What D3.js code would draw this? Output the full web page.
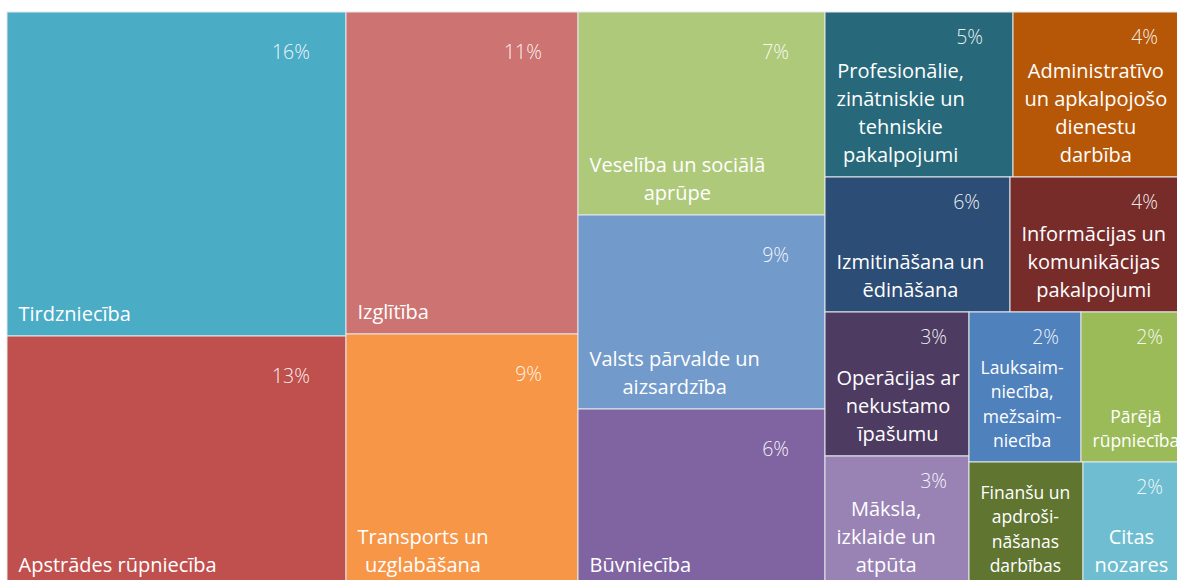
<!DOCTYPE html>
<html>
<head>
<meta charset="utf-8">
<script src="https://cdn.jsdelivr.net/npm/d3@7"></script>
<style>
  html, body { margin: 0; padding: 0; overflow: hidden; background: #fff; }
  .name { font-family: "Open Sans", sans-serif; fill: #fff; }
  .share { font-family: "Open Sans", sans-serif; font-weight: 300; fill: #fff; fill-opacity: 0.92; }
</style>
</head>
<body>
<div id="treemap"><svg></svg></div>
<script>
// sectors, line breaks as in the original labels
var categories = [
    "Tirdzniecība",
    "Apstrādes rūpniecība",
    "Izglītība",
    "Transports un\nuzglabāšana",
    "Veselība un sociālā\naprūpe",
    "Valsts pārvalde un\naizsardzība",
    "Būvniecība",
    "Profesionālie,\nzinātniskie un\ntehniskie\npakalpojumi",
    "Administratīvo\nun apkalpojošo\ndienestu\ndarbība",
    "Izmitināšana un\nēdināšana",
    "Informācijas un\nkomunikācijas\npakalpojumi",
    "Operācijas ar\nnekustamo\nīpašumu",
    "Māksla,\nizklaide un\natpūta",
    "Lauksaim-\nniecība,\nmežsaim-\nniecība",
    "Pārējā\nrūpniecība",
    "Finanšu un\napdroši-\nnāšanas\ndarbības",
    "Citas\nnozares"
];

// tile sizes
var sizes = [16.3, 12.6, 11.1, 8.7, 7.4, 7.1, 6.5, 4.6, 4.1, 3.7, 3.4, 3.1, 2.8, 2.5, 2.2, 2.1, 1.8];

// percentage labels as printed on the tiles
var shareLabels = ["16%", "13%", "11%", "9%", "7%", "9%", "6%", "5%", "4%", "6%", "4%", "3%", "3%", "2%", "2%", "2%", "2%"];

var palette = [
    "#4bacc6", "#c0504d", "#cd7371", "#f79646", "#afc97a", "#729aca", "#8064a2",
    "#27697b", "#b65708", "#2c4d75", "#772c2a", "#4d3b62", "#9983b5",
    "#4f81bd", "#9bbb59", "#5f7530", "#6fbdd1"
];

var width = 1177;
var height = 580;
var mapLeft = 7, mapTop = 12;
var mapWidth = 1173, mapHeight = 575;   // runs past the window edge, like the original crop

function draw() {
    var svg = d3.select("#treemap svg")
        .attr("width", width)
        .attr("height", height);

    var color = d3.scaleOrdinal(categories, palette);

    var root = d3.hierarchy({
            children: categories.map(function(c, i) {
                return { name: c, size: sizes[i], share: shareLabels[i] };
            })
        })
        .sum(function(d) { return d.size || 0; })
        .sort(function(a, b) { return b.value - a.value; });

    d3.treemap()
        .tile(d3.treemapSquarify.ratio(1))
        .size([mapWidth, mapHeight])
        .round(true)(root);

    var g = svg.append("g")
        .attr("transform", "translate(" + mapLeft + "," + mapTop + ")");

    var cell = g.selectAll(".cell")
        .data(root.leaves())
        .enter()
        .append("g")
        .attr("class", "cell");

    cell.append("rect")
        .attr("x", function(d) { return d.x0; })
        .attr("y", function(d) { return d.y0; })
        .attr("width", function(d) { return d.x1 - d.x0; })
        .attr("height", function(d) { return d.y1 - d.y0; })
        .attr("fill", function(d) { return color(d.data.name); })
        .attr("stroke", "#e3e8ec")
        .attr("stroke-width", 1);

    cell.each(function(d) {
        var el = d3.select(this);
        var w = d.x1 - d.x0;
        var lines = d.data.name.split("\n");

        var name = el.append("text")
            .attr("class", "name")
            .attr("text-anchor", "middle");

        var spans = name.selectAll("tspan")
            .data(lines)
            .enter()
            .append("tspan")
            .text(function(t) { return t; });

        function blockWidth(size) {
            name.style("font-size", size + "px");
            var m = 0;
            spans.each(function() { m = Math.max(m, this.getComputedTextLength()); });
            return m;
        }

        var fontSize = 20;
        var bw = blockWidth(fontSize);
        if (bw > w - 20) {
            fontSize = 17.5;
            bw = blockWidth(fontSize);
        }
        var lineH = fontSize * 1.4;
        var cx = d.x0 + 11.5 + bw / 2;
        var lastBase = d.y1 - 15;
        var n = lines.length;

        spans.attr("x", cx)
            .attr("y", function(t, i) { return lastBase - (n - 1 - i) * lineH; });

        // share label, top right
        var pad = w > 200 ? 36 : w > 175 ? 30 : w > 100 ? 22 : 17;
        var shareBase = d.y0 + (w > 200 ? 47 : 32);
        var nameTop = lastBase - (n - 1) * lineH - fontSize * 0.72;

        if (nameTop > shareBase + 6) {
            el.append("text")
                .attr("class", "share")
                .attr("text-anchor", "end")
                .attr("x", d.x1 - pad)
                .attr("y", shareBase)
                .style("font-size", "19.5px")
                .text(d.data.share);
        }
    });
}

draw();
</script>
</body>
</html>
